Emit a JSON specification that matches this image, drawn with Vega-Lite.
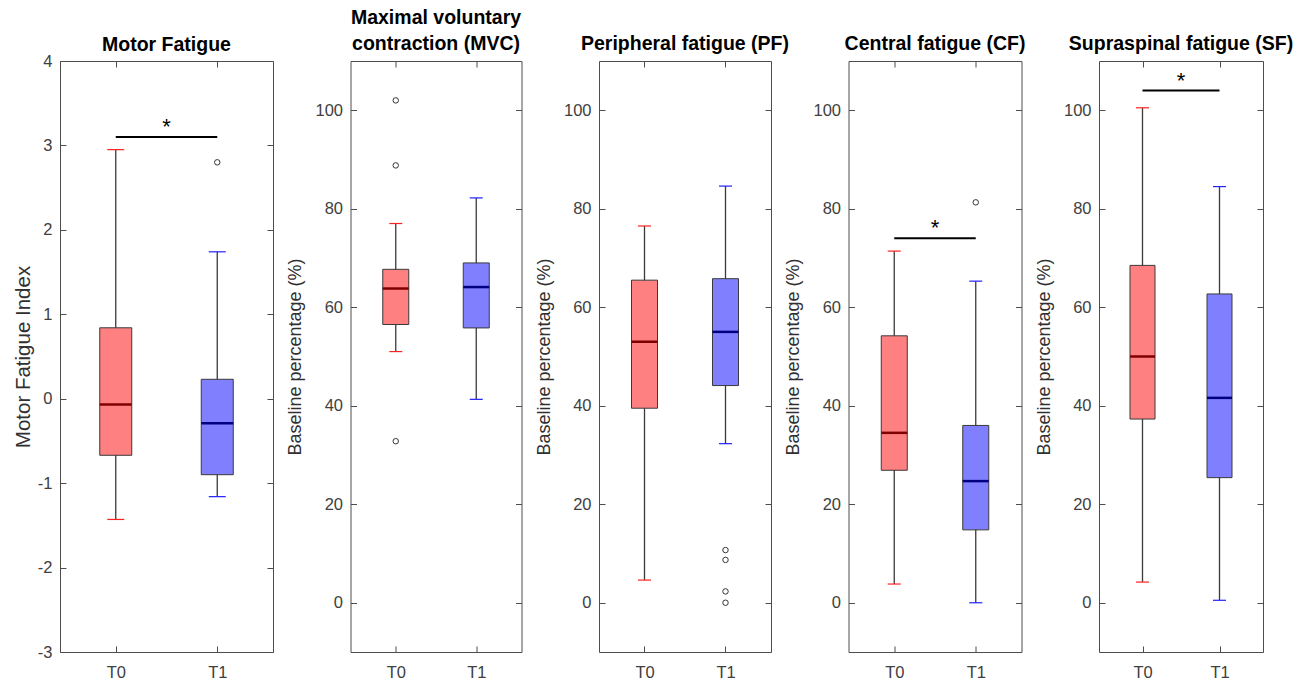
{
  "$schema": "https://vega.github.io/schema/vega-lite/v6.json",
  "background": "white",
  "padding": {"left": 12, "top": 7, "right": 5, "bottom": 0},
  "datasets": {
    "boxes": [
      {"panel": "MF", "time": "T0", "pos": 1, "lo": -1.43, "q1": -0.67, "med": -0.07, "q3": 0.84, "hi": 2.95},
      {"panel": "MF", "time": "T1", "pos": 2, "lo": -1.16, "q1": -0.9, "med": -0.29, "q3": 0.23, "hi": 1.74},
      {"panel": "MVC", "time": "T0", "pos": 1, "lo": 51, "q1": 56.5, "med": 63.8, "q3": 67.7, "hi": 77},
      {"panel": "MVC", "time": "T1", "pos": 2, "lo": 41.3, "q1": 55.8, "med": 64.1, "q3": 69, "hi": 82.2},
      {"panel": "PF", "time": "T0", "pos": 1, "lo": 4.6, "q1": 39.5, "med": 53, "q3": 65.5, "hi": 76.5},
      {"panel": "PF", "time": "T1", "pos": 2, "lo": 32.3, "q1": 44.1, "med": 55, "q3": 65.8, "hi": 84.6},
      {"panel": "CF", "time": "T0", "pos": 1, "lo": 3.8, "q1": 26.9, "med": 34.5, "q3": 54.2, "hi": 71.4},
      {"panel": "CF", "time": "T1", "pos": 2, "lo": 0, "q1": 14.8, "med": 24.7, "q3": 36, "hi": 65.3},
      {"panel": "SF", "time": "T0", "pos": 1, "lo": 4.2, "q1": 37.3, "med": 50, "q3": 68.5, "hi": 100.5},
      {"panel": "SF", "time": "T1", "pos": 2, "lo": 0.5, "q1": 25.4, "med": 41.6, "q3": 62.7, "hi": 84.5}
    ],
    "outliers": [
      {"panel": "MF", "pos": 2, "val": 2.8},
      {"panel": "MVC", "pos": 1, "val": 102},
      {"panel": "MVC", "pos": 1, "val": 88.8},
      {"panel": "MVC", "pos": 1, "val": 32.8},
      {"panel": "PF", "pos": 2, "val": 10.7},
      {"panel": "PF", "pos": 2, "val": 8.7},
      {"panel": "PF", "pos": 2, "val": 2.3},
      {"panel": "PF", "pos": 2, "val": 0},
      {"panel": "CF", "pos": 2, "val": 81.3}
    ],
    "sig": [
      {"panel": "MF", "from": 1, "to": 2, "mid": 1.5, "y": 3.1, "label": "*"},
      {"panel": "CF", "from": 1, "to": 2, "mid": 1.5, "y": 74, "label": "*"},
      {"panel": "SF", "from": 1, "to": 2, "mid": 1.5, "y": 104, "label": "*"}
    ]
  },
  "hconcat": [
    {
      "width": 213, "height": 591,
      "title": {"text": "Motor Fatigue", "offset": -2},
      "layer": [
        {"data": {"name": "boxes"}, "transform": [{"filter": "datum.panel == 'MF'"}],
         "mark": {"type": "rule", "color": "#3a3a3a", "strokeWidth": 1.3},
         "encoding": {
           "x": {"field": "pos", "type": "quantitative", "scale": {"domain": [0.5, 2.5], "nice": false}, "axis": {"orient": "bottom", "values": [1, 2], "labelExpr": "datum.value == 1 ? 'T0' : 'T1'", "labelPadding": 18, "title": null}},
           "y": {"field": "lo", "type": "quantitative", "scale": {"domain": [-3, 4], "nice": false, "zero": false}, "axis": {"orient": "left", "values": [-3, -2, -1, 0, 1, 2, 3, 4], "labelExpr": "replace(datum.label, '\u2212', '-')", "title": "Motor Fatigue Index", "titleFontSize": 20.5, "titlePadding": 4}},
           "y2": {"field": "hi"}}},
        {"data": {"name": "boxes"}, "transform": [{"filter": "datum.panel == 'MF'"}],
         "mark": {"type": "bar", "size": 32, "stroke": "#3a3a3a", "strokeWidth": 1, "opacity": 1},
         "encoding": {
           "x": {"field": "pos", "type": "quantitative", "scale": {"domain": [0.5, 2.5], "nice": false}, "axis": {"orient": "top", "values": [1, 2], "labels": false, "title": null}},
           "y": {"field": "q1", "type": "quantitative", "scale": {"domain": [-3, 4], "nice": false, "zero": false}, "axis": {"orient": "right", "values": [-3, -2, -1, 0, 1, 2, 3, 4], "labels": false, "title": null}},
           "y2": {"field": "q3"},
           "color": {"field": "time", "type": "nominal", "scale": {"domain": ["T0", "T1"], "range": ["#ff8080", "#8080ff"]}, "legend": null}}},
        {"data": {"name": "boxes"}, "transform": [{"filter": "datum.panel == 'MF'"}],
         "mark": {"type": "tick", "orient": "horizontal", "size": 32, "thickness": 2.5, "opacity": 1},
         "encoding": {
           "x": {"field": "pos", "type": "quantitative", "scale": {"domain": [0.5, 2.5], "nice": false}, "axis": null},
           "y": {"field": "med", "type": "quantitative", "scale": {"domain": [-3, 4], "nice": false, "zero": false}, "axis": null},
           "color": {"field": "time", "type": "nominal", "scale": {"domain": ["T0", "T1"], "range": ["#800000", "#000080"]}, "legend": null}}},
        {"data": {"name": "boxes"}, "transform": [{"filter": "datum.panel == 'MF'"}],
         "mark": {"type": "tick", "orient": "horizontal", "size": 17, "thickness": 1.2, "opacity": 1},
         "encoding": {
           "x": {"field": "pos", "type": "quantitative", "scale": {"domain": [0.5, 2.5], "nice": false}, "axis": null},
           "y": {"field": "hi", "type": "quantitative", "scale": {"domain": [-3, 4], "nice": false, "zero": false}, "axis": null},
           "color": {"field": "time", "type": "nominal", "scale": {"domain": ["T0", "T1"], "range": ["#ff2020", "#2020ff"]}, "legend": null}}},
        {"data": {"name": "boxes"}, "transform": [{"filter": "datum.panel == 'MF'"}],
         "mark": {"type": "tick", "orient": "horizontal", "size": 17, "thickness": 1.2, "opacity": 1},
         "encoding": {
           "x": {"field": "pos", "type": "quantitative", "scale": {"domain": [0.5, 2.5], "nice": false}, "axis": null},
           "y": {"field": "lo", "type": "quantitative", "scale": {"domain": [-3, 4], "nice": false, "zero": false}, "axis": null},
           "color": {"field": "time", "type": "nominal", "scale": {"domain": ["T0", "T1"], "range": ["#ff2020", "#2020ff"]}, "legend": null}}},
        {"data": {"name": "outliers"}, "transform": [{"filter": "datum.panel == 'MF'"}],
         "mark": {"type": "point", "shape": "circle", "filled": false, "size": 30, "color": "#333333", "strokeWidth": 1, "opacity": 1},
         "encoding": {
           "x": {"field": "pos", "type": "quantitative", "scale": {"domain": [0.5, 2.5], "nice": false}, "axis": null},
           "y": {"field": "val", "type": "quantitative", "scale": {"domain": [-3, 4], "nice": false, "zero": false}, "axis": null}}},
        {"data": {"name": "sig"}, "transform": [{"filter": "datum.panel == 'MF'"}],
         "mark": {"type": "rule", "color": "#000000", "strokeWidth": 2},
         "encoding": {
           "x": {"field": "from", "type": "quantitative", "scale": {"domain": [0.5, 2.5], "nice": false}, "axis": null},
           "x2": {"field": "to"},
           "y": {"field": "y", "type": "quantitative", "scale": {"domain": [-3, 4], "nice": false, "zero": false}, "axis": null}}},
        {"data": {"name": "sig"}, "transform": [{"filter": "datum.panel == 'MF'"}],
         "mark": {"type": "text", "fontSize": 22, "color": "#000000", "baseline": "alphabetic", "dy": -3},
         "encoding": {
           "x": {"field": "mid", "type": "quantitative", "scale": {"domain": [0.5, 2.5], "nice": false}, "axis": null},
           "y": {"field": "y", "type": "quantitative", "scale": {"domain": [-3, 4], "nice": false, "zero": false}, "axis": null},
           "text": {"field": "label"}}}
      ],
      "resolve": {"axis": {"x": "independent", "y": "independent"}, "scale": {"color": "independent"}}
    },
    {
      "width": 171, "height": 591,
      "title": {"text": ["Maximal voluntary", "contraction (MVC)"]},
      "layer": [
        {"data": {"name": "boxes"}, "transform": [{"filter": "datum.panel == 'MVC'"}],
         "mark": {"type": "rule", "color": "#3a3a3a", "strokeWidth": 1.3},
         "encoding": {
           "x": {"field": "pos", "type": "quantitative", "scale": {"domain": [0.5, 2.5], "nice": false}, "axis": {"orient": "bottom", "values": [1, 2], "labelExpr": "datum.value == 1 ? 'T0' : 'T1'", "labelPadding": 18, "title": null}},
           "y": {"field": "lo", "type": "quantitative", "scale": {"domain": [-10, 110], "nice": false, "zero": false}, "axis": {"orient": "left", "values": [0, 20, 40, 60, 80, 100], "title": "Baseline percentage (%)"}},
           "y2": {"field": "hi"}}},
        {"data": {"name": "boxes"}, "transform": [{"filter": "datum.panel == 'MVC'"}],
         "mark": {"type": "bar", "size": 26, "stroke": "#3a3a3a", "strokeWidth": 1, "opacity": 1},
         "encoding": {
           "x": {"field": "pos", "type": "quantitative", "scale": {"domain": [0.5, 2.5], "nice": false}, "axis": {"orient": "top", "values": [1, 2], "labels": false, "title": null}},
           "y": {"field": "q1", "type": "quantitative", "scale": {"domain": [-10, 110], "nice": false, "zero": false}, "axis": {"orient": "right", "values": [0, 20, 40, 60, 80, 100], "labels": false, "title": null}},
           "y2": {"field": "q3"},
           "color": {"field": "time", "type": "nominal", "scale": {"domain": ["T0", "T1"], "range": ["#ff8080", "#8080ff"]}, "legend": null}}},
        {"data": {"name": "boxes"}, "transform": [{"filter": "datum.panel == 'MVC'"}],
         "mark": {"type": "tick", "orient": "horizontal", "size": 26, "thickness": 2.5, "opacity": 1},
         "encoding": {
           "x": {"field": "pos", "type": "quantitative", "scale": {"domain": [0.5, 2.5], "nice": false}, "axis": null},
           "y": {"field": "med", "type": "quantitative", "scale": {"domain": [-10, 110], "nice": false, "zero": false}, "axis": null},
           "color": {"field": "time", "type": "nominal", "scale": {"domain": ["T0", "T1"], "range": ["#800000", "#000080"]}, "legend": null}}},
        {"data": {"name": "boxes"}, "transform": [{"filter": "datum.panel == 'MVC'"}],
         "mark": {"type": "tick", "orient": "horizontal", "size": 13, "thickness": 1.2, "opacity": 1},
         "encoding": {
           "x": {"field": "pos", "type": "quantitative", "scale": {"domain": [0.5, 2.5], "nice": false}, "axis": null},
           "y": {"field": "hi", "type": "quantitative", "scale": {"domain": [-10, 110], "nice": false, "zero": false}, "axis": null},
           "color": {"field": "time", "type": "nominal", "scale": {"domain": ["T0", "T1"], "range": ["#ff2020", "#2020ff"]}, "legend": null}}},
        {"data": {"name": "boxes"}, "transform": [{"filter": "datum.panel == 'MVC'"}],
         "mark": {"type": "tick", "orient": "horizontal", "size": 13, "thickness": 1.2, "opacity": 1},
         "encoding": {
           "x": {"field": "pos", "type": "quantitative", "scale": {"domain": [0.5, 2.5], "nice": false}, "axis": null},
           "y": {"field": "lo", "type": "quantitative", "scale": {"domain": [-10, 110], "nice": false, "zero": false}, "axis": null},
           "color": {"field": "time", "type": "nominal", "scale": {"domain": ["T0", "T1"], "range": ["#ff2020", "#2020ff"]}, "legend": null}}},
        {"data": {"name": "outliers"}, "transform": [{"filter": "datum.panel == 'MVC'"}],
         "mark": {"type": "point", "shape": "circle", "filled": false, "size": 30, "color": "#333333", "strokeWidth": 1, "opacity": 1},
         "encoding": {
           "x": {"field": "pos", "type": "quantitative", "scale": {"domain": [0.5, 2.5], "nice": false}, "axis": null},
           "y": {"field": "val", "type": "quantitative", "scale": {"domain": [-10, 110], "nice": false, "zero": false}, "axis": null}}}
      ],
      "resolve": {"axis": {"x": "independent", "y": "independent"}, "scale": {"color": "independent"}}
    },
    {
      "width": 172, "height": 591,
      "title": {"text": "Peripheral fatigue (PF)"},
      "layer": [
        {"data": {"name": "boxes"}, "transform": [{"filter": "datum.panel == 'PF'"}],
         "mark": {"type": "rule", "color": "#3a3a3a", "strokeWidth": 1.3},
         "encoding": {
           "x": {"field": "pos", "type": "quantitative", "scale": {"domain": [0.5, 2.5], "nice": false}, "axis": {"orient": "bottom", "values": [1, 2], "labelExpr": "datum.value == 1 ? 'T0' : 'T1'", "labelPadding": 18, "title": null}},
           "y": {"field": "lo", "type": "quantitative", "scale": {"domain": [-10, 110], "nice": false, "zero": false}, "axis": {"orient": "left", "values": [0, 20, 40, 60, 80, 100], "title": "Baseline percentage (%)"}},
           "y2": {"field": "hi"}}},
        {"data": {"name": "boxes"}, "transform": [{"filter": "datum.panel == 'PF'"}],
         "mark": {"type": "bar", "size": 26, "stroke": "#3a3a3a", "strokeWidth": 1, "opacity": 1},
         "encoding": {
           "x": {"field": "pos", "type": "quantitative", "scale": {"domain": [0.5, 2.5], "nice": false}, "axis": {"orient": "top", "values": [1, 2], "labels": false, "title": null}},
           "y": {"field": "q1", "type": "quantitative", "scale": {"domain": [-10, 110], "nice": false, "zero": false}, "axis": {"orient": "right", "values": [0, 20, 40, 60, 80, 100], "labels": false, "title": null}},
           "y2": {"field": "q3"},
           "color": {"field": "time", "type": "nominal", "scale": {"domain": ["T0", "T1"], "range": ["#ff8080", "#8080ff"]}, "legend": null}}},
        {"data": {"name": "boxes"}, "transform": [{"filter": "datum.panel == 'PF'"}],
         "mark": {"type": "tick", "orient": "horizontal", "size": 26, "thickness": 2.5, "opacity": 1},
         "encoding": {
           "x": {"field": "pos", "type": "quantitative", "scale": {"domain": [0.5, 2.5], "nice": false}, "axis": null},
           "y": {"field": "med", "type": "quantitative", "scale": {"domain": [-10, 110], "nice": false, "zero": false}, "axis": null},
           "color": {"field": "time", "type": "nominal", "scale": {"domain": ["T0", "T1"], "range": ["#800000", "#000080"]}, "legend": null}}},
        {"data": {"name": "boxes"}, "transform": [{"filter": "datum.panel == 'PF'"}],
         "mark": {"type": "tick", "orient": "horizontal", "size": 13, "thickness": 1.2, "opacity": 1},
         "encoding": {
           "x": {"field": "pos", "type": "quantitative", "scale": {"domain": [0.5, 2.5], "nice": false}, "axis": null},
           "y": {"field": "hi", "type": "quantitative", "scale": {"domain": [-10, 110], "nice": false, "zero": false}, "axis": null},
           "color": {"field": "time", "type": "nominal", "scale": {"domain": ["T0", "T1"], "range": ["#ff2020", "#2020ff"]}, "legend": null}}},
        {"data": {"name": "boxes"}, "transform": [{"filter": "datum.panel == 'PF'"}],
         "mark": {"type": "tick", "orient": "horizontal", "size": 13, "thickness": 1.2, "opacity": 1},
         "encoding": {
           "x": {"field": "pos", "type": "quantitative", "scale": {"domain": [0.5, 2.5], "nice": false}, "axis": null},
           "y": {"field": "lo", "type": "quantitative", "scale": {"domain": [-10, 110], "nice": false, "zero": false}, "axis": null},
           "color": {"field": "time", "type": "nominal", "scale": {"domain": ["T0", "T1"], "range": ["#ff2020", "#2020ff"]}, "legend": null}}},
        {"data": {"name": "outliers"}, "transform": [{"filter": "datum.panel == 'PF'"}],
         "mark": {"type": "point", "shape": "circle", "filled": false, "size": 30, "color": "#333333", "strokeWidth": 1, "opacity": 1},
         "encoding": {
           "x": {"field": "pos", "type": "quantitative", "scale": {"domain": [0.5, 2.5], "nice": false}, "axis": null},
           "y": {"field": "val", "type": "quantitative", "scale": {"domain": [-10, 110], "nice": false, "zero": false}, "axis": null}}}
      ],
      "resolve": {"axis": {"x": "independent", "y": "independent"}, "scale": {"color": "independent"}}
    },
    {
      "width": 173, "height": 591,
      "title": {"text": "Central fatigue (CF)"},
      "layer": [
        {"data": {"name": "boxes"}, "transform": [{"filter": "datum.panel == 'CF'"}],
         "mark": {"type": "rule", "color": "#3a3a3a", "strokeWidth": 1.3},
         "encoding": {
           "x": {"field": "pos", "type": "quantitative", "scale": {"domain": [0.5, 2.5], "nice": false}, "axis": {"orient": "bottom", "values": [1, 2], "labelExpr": "datum.value == 1 ? 'T0' : 'T1'", "labelPadding": 18, "title": null}},
           "y": {"field": "lo", "type": "quantitative", "scale": {"domain": [-10, 110], "nice": false, "zero": false}, "axis": {"orient": "left", "values": [0, 20, 40, 60, 80, 100], "title": "Baseline percentage (%)"}},
           "y2": {"field": "hi"}}},
        {"data": {"name": "boxes"}, "transform": [{"filter": "datum.panel == 'CF'"}],
         "mark": {"type": "bar", "size": 26, "stroke": "#3a3a3a", "strokeWidth": 1, "opacity": 1},
         "encoding": {
           "x": {"field": "pos", "type": "quantitative", "scale": {"domain": [0.5, 2.5], "nice": false}, "axis": {"orient": "top", "values": [1, 2], "labels": false, "title": null}},
           "y": {"field": "q1", "type": "quantitative", "scale": {"domain": [-10, 110], "nice": false, "zero": false}, "axis": {"orient": "right", "values": [0, 20, 40, 60, 80, 100], "labels": false, "title": null}},
           "y2": {"field": "q3"},
           "color": {"field": "time", "type": "nominal", "scale": {"domain": ["T0", "T1"], "range": ["#ff8080", "#8080ff"]}, "legend": null}}},
        {"data": {"name": "boxes"}, "transform": [{"filter": "datum.panel == 'CF'"}],
         "mark": {"type": "tick", "orient": "horizontal", "size": 26, "thickness": 2.5, "opacity": 1},
         "encoding": {
           "x": {"field": "pos", "type": "quantitative", "scale": {"domain": [0.5, 2.5], "nice": false}, "axis": null},
           "y": {"field": "med", "type": "quantitative", "scale": {"domain": [-10, 110], "nice": false, "zero": false}, "axis": null},
           "color": {"field": "time", "type": "nominal", "scale": {"domain": ["T0", "T1"], "range": ["#800000", "#000080"]}, "legend": null}}},
        {"data": {"name": "boxes"}, "transform": [{"filter": "datum.panel == 'CF'"}],
         "mark": {"type": "tick", "orient": "horizontal", "size": 13, "thickness": 1.2, "opacity": 1},
         "encoding": {
           "x": {"field": "pos", "type": "quantitative", "scale": {"domain": [0.5, 2.5], "nice": false}, "axis": null},
           "y": {"field": "hi", "type": "quantitative", "scale": {"domain": [-10, 110], "nice": false, "zero": false}, "axis": null},
           "color": {"field": "time", "type": "nominal", "scale": {"domain": ["T0", "T1"], "range": ["#ff2020", "#2020ff"]}, "legend": null}}},
        {"data": {"name": "boxes"}, "transform": [{"filter": "datum.panel == 'CF'"}],
         "mark": {"type": "tick", "orient": "horizontal", "size": 13, "thickness": 1.2, "opacity": 1},
         "encoding": {
           "x": {"field": "pos", "type": "quantitative", "scale": {"domain": [0.5, 2.5], "nice": false}, "axis": null},
           "y": {"field": "lo", "type": "quantitative", "scale": {"domain": [-10, 110], "nice": false, "zero": false}, "axis": null},
           "color": {"field": "time", "type": "nominal", "scale": {"domain": ["T0", "T1"], "range": ["#ff2020", "#2020ff"]}, "legend": null}}},
        {"data": {"name": "outliers"}, "transform": [{"filter": "datum.panel == 'CF'"}],
         "mark": {"type": "point", "shape": "circle", "filled": false, "size": 30, "color": "#333333", "strokeWidth": 1, "opacity": 1},
         "encoding": {
           "x": {"field": "pos", "type": "quantitative", "scale": {"domain": [0.5, 2.5], "nice": false}, "axis": null},
           "y": {"field": "val", "type": "quantitative", "scale": {"domain": [-10, 110], "nice": false, "zero": false}, "axis": null}}},
        {"data": {"name": "sig"}, "transform": [{"filter": "datum.panel == 'CF'"}],
         "mark": {"type": "rule", "color": "#000000", "strokeWidth": 2},
         "encoding": {
           "x": {"field": "from", "type": "quantitative", "scale": {"domain": [0.5, 2.5], "nice": false}, "axis": null},
           "x2": {"field": "to"},
           "y": {"field": "y", "type": "quantitative", "scale": {"domain": [-10, 110], "nice": false, "zero": false}, "axis": null}}},
        {"data": {"name": "sig"}, "transform": [{"filter": "datum.panel == 'CF'"}],
         "mark": {"type": "text", "fontSize": 22, "color": "#000000", "baseline": "alphabetic", "dy": -3},
         "encoding": {
           "x": {"field": "mid", "type": "quantitative", "scale": {"domain": [0.5, 2.5], "nice": false}, "axis": null},
           "y": {"field": "y", "type": "quantitative", "scale": {"domain": [-10, 110], "nice": false, "zero": false}, "axis": null},
           "text": {"field": "label"}}}
      ],
      "resolve": {"axis": {"x": "independent", "y": "independent"}, "scale": {"color": "independent"}}
    },
    {
      "width": 164, "height": 591,
      "title": {"text": "Supraspinal fatigue (SF)"},
      "layer": [
        {"data": {"name": "boxes"}, "transform": [{"filter": "datum.panel == 'SF'"}],
         "mark": {"type": "rule", "color": "#3a3a3a", "strokeWidth": 1.3},
         "encoding": {
           "x": {"field": "pos", "type": "quantitative", "scale": {"domain": [0.5, 2.5], "nice": false}, "axis": {"orient": "bottom", "values": [1, 2], "labelExpr": "datum.value == 1 ? 'T0' : 'T1'", "labelPadding": 18, "title": null}},
           "y": {"field": "lo", "type": "quantitative", "scale": {"domain": [-10, 110], "nice": false, "zero": false}, "axis": {"orient": "left", "values": [0, 20, 40, 60, 80, 100], "title": "Baseline percentage (%)"}},
           "y2": {"field": "hi"}}},
        {"data": {"name": "boxes"}, "transform": [{"filter": "datum.panel == 'SF'"}],
         "mark": {"type": "bar", "size": 25, "stroke": "#3a3a3a", "strokeWidth": 1, "opacity": 1},
         "encoding": {
           "x": {"field": "pos", "type": "quantitative", "scale": {"domain": [0.5, 2.5], "nice": false}, "axis": {"orient": "top", "values": [1, 2], "labels": false, "title": null}},
           "y": {"field": "q1", "type": "quantitative", "scale": {"domain": [-10, 110], "nice": false, "zero": false}, "axis": {"orient": "right", "values": [0, 20, 40, 60, 80, 100], "labels": false, "title": null}},
           "y2": {"field": "q3"},
           "color": {"field": "time", "type": "nominal", "scale": {"domain": ["T0", "T1"], "range": ["#ff8080", "#8080ff"]}, "legend": null}}},
        {"data": {"name": "boxes"}, "transform": [{"filter": "datum.panel == 'SF'"}],
         "mark": {"type": "tick", "orient": "horizontal", "size": 25, "thickness": 2.5, "opacity": 1},
         "encoding": {
           "x": {"field": "pos", "type": "quantitative", "scale": {"domain": [0.5, 2.5], "nice": false}, "axis": null},
           "y": {"field": "med", "type": "quantitative", "scale": {"domain": [-10, 110], "nice": false, "zero": false}, "axis": null},
           "color": {"field": "time", "type": "nominal", "scale": {"domain": ["T0", "T1"], "range": ["#800000", "#000080"]}, "legend": null}}},
        {"data": {"name": "boxes"}, "transform": [{"filter": "datum.panel == 'SF'"}],
         "mark": {"type": "tick", "orient": "horizontal", "size": 13, "thickness": 1.2, "opacity": 1},
         "encoding": {
           "x": {"field": "pos", "type": "quantitative", "scale": {"domain": [0.5, 2.5], "nice": false}, "axis": null},
           "y": {"field": "hi", "type": "quantitative", "scale": {"domain": [-10, 110], "nice": false, "zero": false}, "axis": null},
           "color": {"field": "time", "type": "nominal", "scale": {"domain": ["T0", "T1"], "range": ["#ff2020", "#2020ff"]}, "legend": null}}},
        {"data": {"name": "boxes"}, "transform": [{"filter": "datum.panel == 'SF'"}],
         "mark": {"type": "tick", "orient": "horizontal", "size": 13, "thickness": 1.2, "opacity": 1},
         "encoding": {
           "x": {"field": "pos", "type": "quantitative", "scale": {"domain": [0.5, 2.5], "nice": false}, "axis": null},
           "y": {"field": "lo", "type": "quantitative", "scale": {"domain": [-10, 110], "nice": false, "zero": false}, "axis": null},
           "color": {"field": "time", "type": "nominal", "scale": {"domain": ["T0", "T1"], "range": ["#ff2020", "#2020ff"]}, "legend": null}}},
        {"data": {"name": "sig"}, "transform": [{"filter": "datum.panel == 'SF'"}],
         "mark": {"type": "rule", "color": "#000000", "strokeWidth": 2},
         "encoding": {
           "x": {"field": "from", "type": "quantitative", "scale": {"domain": [0.5, 2.5], "nice": false}, "axis": null},
           "x2": {"field": "to"},
           "y": {"field": "y", "type": "quantitative", "scale": {"domain": [-10, 110], "nice": false, "zero": false}, "axis": null}}},
        {"data": {"name": "sig"}, "transform": [{"filter": "datum.panel == 'SF'"}],
         "mark": {"type": "text", "fontSize": 22, "color": "#000000", "baseline": "alphabetic", "dy": -3},
         "encoding": {
           "x": {"field": "mid", "type": "quantitative", "scale": {"domain": [0.5, 2.5], "nice": false}, "axis": null},
           "y": {"field": "y", "type": "quantitative", "scale": {"domain": [-10, 110], "nice": false, "zero": false}, "axis": null},
           "text": {"field": "label"}}}
      ],
      "resolve": {"axis": {"x": "independent", "y": "independent"}, "scale": {"color": "independent"}}
    }
  ],
  "spacing": 77.5,
  "bounds": "flush",
  "config": {
    "font": "Liberation Sans",
    "view": {"stroke": "#4d4d4d", "strokeWidth": 1},
    "axis": {
      "labelFont": "Liberation Sans", "labelFontSize": 16.5, "labelColor": "#404040",
      "titleFont": "Liberation Sans", "titleFontSize": 18, "titleFontWeight": "normal", "titleColor": "#303030",
      "tickColor": "#4d4d4d", "tickSize": -6, "tickWidth": 1, "domain": false, "grid": false,
      "labelPadding": 14, "titlePadding": 10
    },
    "title": {"font": "Liberation Sans", "fontSize": 19.5, "fontWeight": "bold", "color": "#000000", "baseline": "bottom", "offset": 6, "lineHeight": 26, "anchor": "middle"}
  }
}
